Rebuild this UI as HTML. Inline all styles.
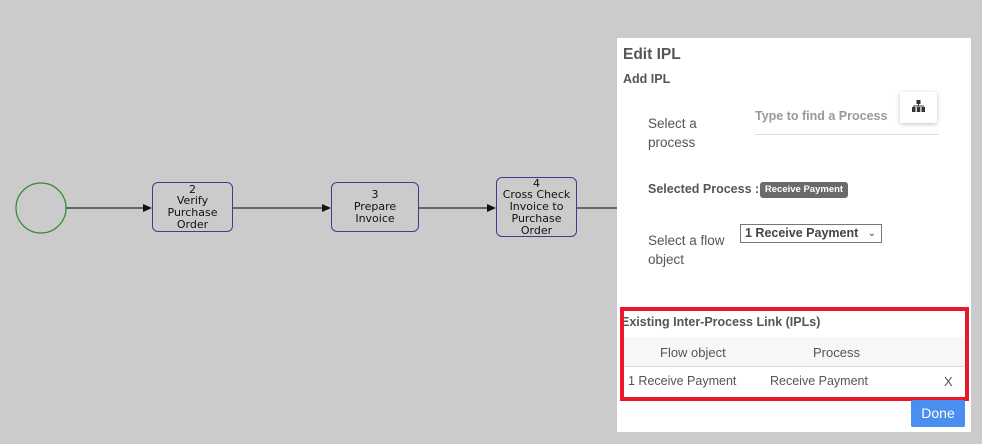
<!DOCTYPE html>
<html><head><style>
*{margin:0;padding:0;box-sizing:border-box}
body{width:982px;height:444px;background:#cbcbcb;position:relative;overflow:hidden;font-family:"Liberation Sans",sans-serif;color:#444}
.a{position:absolute;white-space:nowrap}
.node{position:absolute;border:1.3px solid #3d3d8f;border-radius:6px;background:#cbcbcb;font-family:"DejaVu Sans",sans-serif;font-size:11px;line-height:11.7px;color:#111;text-align:center;display:flex;align-items:center;justify-content:center}
.b{font-weight:bold}
</style></head><body>
<svg class="a" style="left:0;top:0" width="620" height="444">
<circle cx="41" cy="208" r="25" fill="none" stroke="#2d8a2d" stroke-width="1.2"/>
<g stroke="#444" stroke-width="1.5">
<line x1="66" y1="208" x2="144" y2="208"/>
<line x1="233" y1="208" x2="323" y2="208"/>
<line x1="419" y1="208" x2="488" y2="208"/>
<line x1="577" y1="208" x2="620" y2="208"/>
</g>
<g fill="#111">
<polygon points="152,208 143,204 143,212"/>
<polygon points="331,208 322,204 322,212"/>
<polygon points="496,208 487,204 487,212"/>
</g>
</svg>
<div class="node" style="left:152px;top:182px;width:81px;height:50px">2<br>Verify<br>Purchase<br>Order</div>
<div class="node" style="left:331px;top:182px;width:88px;height:50px">3<br>Prepare<br>Invoice</div>
<div class="node" style="left:496px;top:177px;width:81px;height:60px">4<br>Cross Check<br>Invoice to<br>Purchase<br>Order</div>

<div class="a" style="left:617px;top:38px;width:354px;height:394px;background:#fff"></div>
<div class="a b" style="left:623px;top:46px;font-size:15.5px;color:#555">Edit IPL</div>
<div class="a b" style="left:623px;top:72px;font-size:12.5px;color:#555">Add IPL</div>
<div class="a" style="left:648px;top:114px;font-size:13.5px;line-height:19px;color:#555">Select a<br>process</div>
<div class="a b" style="left:755px;top:109px;font-size:12.5px;color:#999">Type to find a Process</div>
<div class="a" style="left:755px;top:134px;width:184px;height:1px;background:#ddd"></div>
<div class="a" style="left:900px;top:92px;width:37px;height:31px;background:#fff;box-shadow:0 1px 4px rgba(0,0,0,.25);border-radius:2px"></div>
<svg class="a" style="left:911px;top:100px" width="15" height="14"><g fill="#333"><rect x="5.5" y="0" width="4" height="4"/><rect x="7" y="4" width="1" height="2"/><rect x="2" y="5.5" width="11" height="1"/><rect x="1" y="7" width="3.5" height="5"/><rect x="5.8" y="7" width="3.5" height="5"/><rect x="10.5" y="7" width="3.5" height="5"/></g></svg>
<div class="a b" style="left:648px;top:182px;font-size:12.5px;color:#555">Selected Process :</div>
<div class="a b" style="left:760px;top:182px;width:88px;height:16px;background:#6b6b6b;border-radius:3px;color:#fff;font-size:9.5px;line-height:16px;text-align:center">Receive Payment</div>
<div class="a" style="left:648px;top:231px;font-size:13.5px;line-height:19px;color:#555">Select a flow<br>object</div>
<div class="a b" style="left:740px;top:224px;width:142px;height:19px;border:1px solid #777;font-size:12.5px;line-height:17px;padding-left:4px;color:#444">1 Receive Payment <span style="position:absolute;right:5px;font-weight:normal;font-size:10px">&#8964;</span></div>

<div class="a" style="left:620px;top:307px;width:349px;height:94px;border:4px solid #e8192c"></div>
<div class="a" style="left:624px;top:315px;width:260px;overflow:hidden;font-size:12.5px;color:#555;font-weight:bold"><span style="display:inline-block;margin-left:-3px">Existing Inter-Process Link (IPLs)</span></div>
<div class="a" style="left:624px;top:337px;width:341px;height:30px;background:#f7f7f7;border-bottom:1px solid #ddd"></div>
<div class="a" style="left:660px;top:345px;font-size:13px;color:#555">Flow object</div>
<div class="a" style="left:813px;top:345px;font-size:13px;color:#555">Process</div>
<div class="a" style="left:628px;top:374px;font-size:12.5px;color:#555">1 Receive Payment</div>
<div class="a" style="left:770px;top:374px;font-size:12.5px;color:#555">Receive Payment</div>
<div class="a" style="left:944px;top:374px;font-size:13px;color:#555">X</div>
<div class="a" style="left:911px;top:400px;width:54px;height:27px;background:#4a8ef0;border-radius:2px;color:#fff;font-size:14px;line-height:26px;text-align:center">Done</div>
</body></html>
